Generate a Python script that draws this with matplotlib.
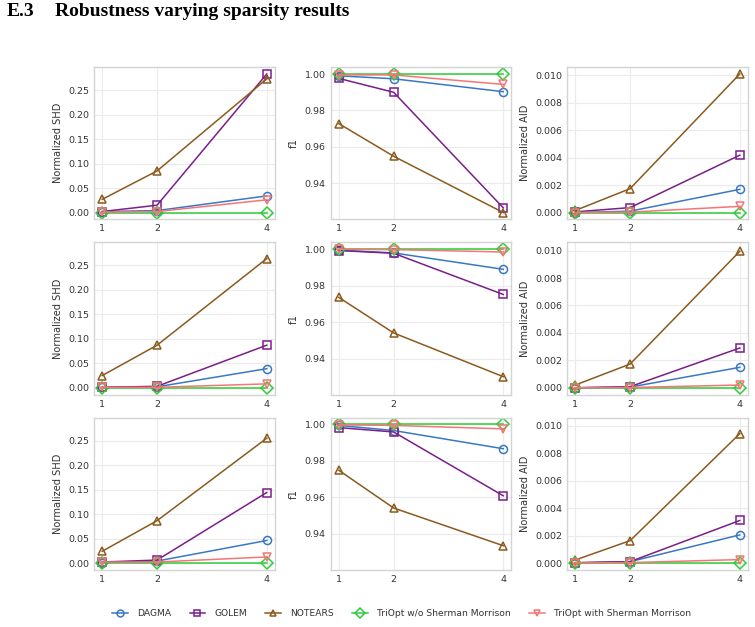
import numpy as np
import matplotlib
matplotlib.use("Agg")
import matplotlib.pyplot as plt
from matplotlib.ticker import FormatStrFormatter

# --- datos ---
sparsity = [1, 2, 4]
metodos = ["DAGMA", "GOLEM", "NOTEARS", "TriOpt w/o Sherman Morrison", "TriOpt with Sherman Morrison"]
colores = ["#3a78c2", "#7a1e8a", "#8b5a1d", "#2ecc3a", "#f47676"]
marcadores = ["o", "s", "^", "D", "v"]
metricas = ["Normalized SHD", "f1", "Normalized AID"]

# fila 1
shd_1 = [[0.002, 0.004, 0.034], [0.002, 0.015, 0.283], [0.027, 0.085, 0.273], [0.0, 0.0, 0.0], [0.001, 0.002, 0.026]]
f1_1 = [[0.9990, 0.9974, 0.9903], [0.9976, 0.9900, 0.9266], [0.9728, 0.9549, 0.9240], [1.0, 1.0, 1.0], [0.9995, 0.9995, 0.9943]]
aid_1 = [[0.0, 0.0001, 0.00169], [0.00005, 0.00036, 0.00418], [0.00015, 0.00174, 0.0101], [0.0, 0.0, 0.0], [0.0, 0.00003, 0.00045]]
# fila 2
shd_2 = [[0.001, 0.002, 0.039], [0.001, 0.003, 0.087], [0.025, 0.087, 0.264], [0.0, 0.0, 0.0], [0.001, 0.001, 0.008]]
f1_2 = [[0.9995, 0.9980, 0.9890], [0.9993, 0.9978, 0.9752], [0.9736, 0.9541, 0.9301], [1.0, 1.0, 1.0], [1.0, 0.9998, 0.9985]]
aid_2 = [[0.0, 0.00005, 0.00149], [0.0, 0.00008, 0.0029], [0.0002, 0.00173, 0.00995], [0.0, 0.0, 0.0], [0.0, 0.00002, 0.0002]]
# fila 3
shd_3 = [[0.001, 0.004, 0.046], [0.002, 0.006, 0.144], [0.024, 0.0865, 0.255], [0.0, 0.0, 0.0], [0.002, 0.002, 0.0124]]
f1_3 = [[0.9995, 0.9967, 0.9867], [0.9983, 0.9959, 0.9609], [0.9749, 0.9542, 0.9335], [1.0, 1.0, 1.0], [0.9998, 0.9995, 0.9976]]
aid_3 = [[0.0, 0.0001, 0.00205], [0.00003, 0.0001, 0.0031], [0.00022, 0.00163, 0.00943], [0.0, 0.0, 0.0], [0.0, 0.00003, 0.00025]]

filas = [[shd_1, f1_1, aid_1], [shd_2, f1_2, aid_2], [shd_3, f1_3, aid_3]]

plt.rcParams.update({"font.family": "DejaVu Sans", "font.size": 7})

fig, axes = plt.subplots(3, 3, figsize=(7.55, 6.27), dpi=100, sharey="col")
fig.subplots_adjust(left=0.1245, right=0.9907, top=0.893, bottom=0.091, wspace=0.307, hspace=0.15)

for i, fila in enumerate(filas):
    for j, datos in enumerate(fila):
        ax = axes[i, j]
        for k, nombre in enumerate(metodos):
            ax.plot(sparsity, datos[k], color=colores[k], marker=marcadores[k], markersize=5.8,
                    markerfacecolor="none", markeredgewidth=1.1, linewidth=1.1, label=nombre)
        ax.set_xticks(sparsity)
        ax.set_ylabel(metricas[j], color="#333333", fontsize=7.1)
        ax.grid(True, color="#ebebeb", linewidth=0.8)
        ax.set_axisbelow(True)
        ax.tick_params(length=0, colors="#333333", labelsize=6.8, pad=3.5)
        for s in ax.spines.values():
            s.set_color("#d4d4d4")
            s.set_linewidth(1.0)
        if j == 2:
            ax.set_yticks([0.0, 0.002, 0.004, 0.006, 0.008, 0.010])
            ax.yaxis.set_major_formatter(FormatStrFormatter("%.3f"))
        elif j == 0:
            ax.set_yticks([0.0, 0.05, 0.10, 0.15, 0.20, 0.25])
            ax.yaxis.set_major_formatter(FormatStrFormatter("%.2f"))
        else:
            ax.set_yticks([0.94, 0.96, 0.98, 1.00])
            ax.yaxis.set_major_formatter(FormatStrFormatter("%.2f"))
        ax.tick_params(labelleft=True)

handles, labels = axes[0, 0].get_legend_handles_labels()
fig.legend(handles, labels, loc="center", bbox_to_anchor=(0.532, 0.021), ncol=5, frameon=False,
           fontsize=6.6, handlelength=1.7, handletextpad=1.0, columnspacing=2.0,
           markerscale=0.85, labelcolor="#333333")

fig.text(7 / 755, 0.981, "E.3", fontsize=14, fontweight="bold",
         family=["Liberation Serif", "DejaVu Serif"], va="center", ha="left")
fig.text(55 / 755, 0.981, "Robustness varying sparsity results", fontsize=14, fontweight="bold",
         family=["Liberation Serif", "DejaVu Serif"], va="center", ha="left")

fig.savefig("out.png", dpi=100, facecolor="white")
